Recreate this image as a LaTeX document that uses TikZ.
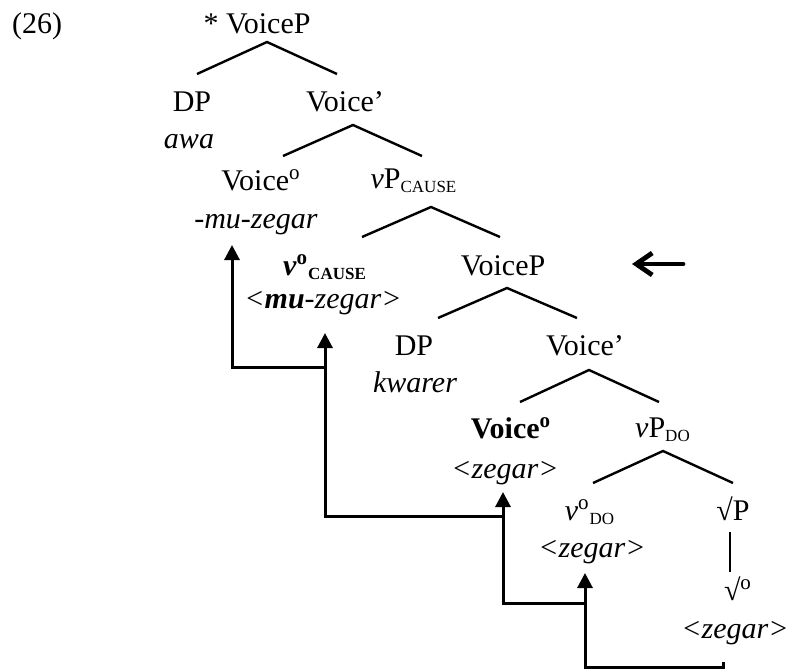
\documentclass[tikz,border=0pt]{standalone}
\usepackage{fontspec}
\setmainfont{Liberation Serif}
\usetikzlibrary{arrows.meta,calc}
\newcommand{\subcat}[1]{\textsubscript{\fontsize{8.5}{9}\selectfont #1}}
\newcommand{\supcat}[1]{\textsuperscript{#1}}

\begin{document}
\begin{tikzpicture}[x=0.5pt, y=-0.5pt,
    every node/.style={font=\fontsize{15}{18}\selectfont, inner sep=0pt, anchor=base},
    word/.style={font=\fontsize{15}{18}\selectfont\itshape},
    branch/.style={line width=1.2pt},
    move/.style={line width=1.5pt, -{Triangle[width=7.5pt,length=7.5pt]}},
    pointer/.style={line width=2.4pt, line cap=round, -{Straight Barb[length=8pt,width=11pt]}}]
    \useasboundingbox (0,0) rectangle (788,669);

    % Nodes
    \node (ex) at (37,33) {(26)};
    \node (top) at (257,33) {* VoiceP};
    \node (dp1) at (192,111) {DP};
    \node[word] (awa) at (189,148) {awa};
    \node (vbar1) at (345,111) {Voice'};
    \node (voice1) at (261,190) {Voice\supcat{o}};
    \node[word] (muzegar) at (256,228) {-mu-zegar};
    \node (vpcause) at (414,188) {\textit{v}P\subcat{CAUSE}};
    \node (vcause) at (325,275) {\textbf{\textit{v}\supcat{o}\subcat{CAUSE}}};
    \node[word] (muzegar2) at (323,308) {<\textbf{mu}-zegar>};
    \node (voicep2) at (503,275) {VoiceP};
    \node (dp2) at (414,355) {DP};
    \node[word] (kwarer) at (415,392) {kwarer};
    \node (vbar2) at (585,355) {Voice'};
    \node (voice2) at (511,438) {\textbf{Voice\supcat{o}}};
    \node[word] (zegar1) at (505,478) {<zegar>};
    \node (vpdo) at (663,437) {\textit{v}P\subcat{DO}};
    \node (vdo) at (590,520) {\textit{v}\supcat{o}\subcat{DO}};
    \node[word] (zegar2) at (592,557) {<zegar>};
    \node (rootp) at (733,520) {√P};
    \node (root) at (738,600) {√\supcat{o}};
    \node[word] (zegar3) at (735,638) {<zegar>};
    \coordinate (here) at (683,264);

    % Branches
    \draw[branch] ($(dp1.base)+(5,-37)$) -- ($(top.base)+(10,9)$) -- ($(vbar1.base)+(-8,-37)$);
    \draw[branch] ($(voice1.base)+(22,-34)$) -- ($(vbar1.base)+(8,14)$) -- ($(vpcause.base)+(8,-32)$);
    \draw[branch] ($(vcause.base)+(37,-38)$) -- ($(vpcause.base)+(17,19)$) -- ($(voicep2.base)+(-3,-38)$);
    \draw[branch] ($(dp2.base)+(24,-37)$) -- ($(voicep2.base)+(4,13)$) -- ($(vbar2.base)+(-8,-37)$);
    \draw[branch] ($(voice2.base)+(9,-36)$) -- ($(vbar2.base)+(4,15)$) -- ($(vpdo.base)+(-4,-35)$);
    \draw[branch] ($(vdo.base)+(3,-37)$) -- ($(vpdo.base)+(0,14)$) -- ($(rootp.base)+(0,-37)$);
    \draw[branch] ($(rootp.base)+(-3,12)$) -- ($(root.base)+(-8,-28)$);

    % Head movement
    \draw[move] ($(zegar3.base)+(-12,24)$) -- ++(0,5) -| ($(zegar2.base)+(-7,16)$);
    \draw[move] ($(zegar2.base)+(-7,46)$) -| ($(zegar1.base)+(-2,14)$);
    \draw[move] ($(zegar1.base)+(-2,38)$) -| ($(muzegar2.base)+(2,25)$);
    \draw[move] ($(muzegar2.base)+(2,59)$) -| ($(muzegar.base)+(-24,17)$);

    \draw[pointer] (here) -- ++(-51,0);
\end{tikzpicture}
\end{document}
